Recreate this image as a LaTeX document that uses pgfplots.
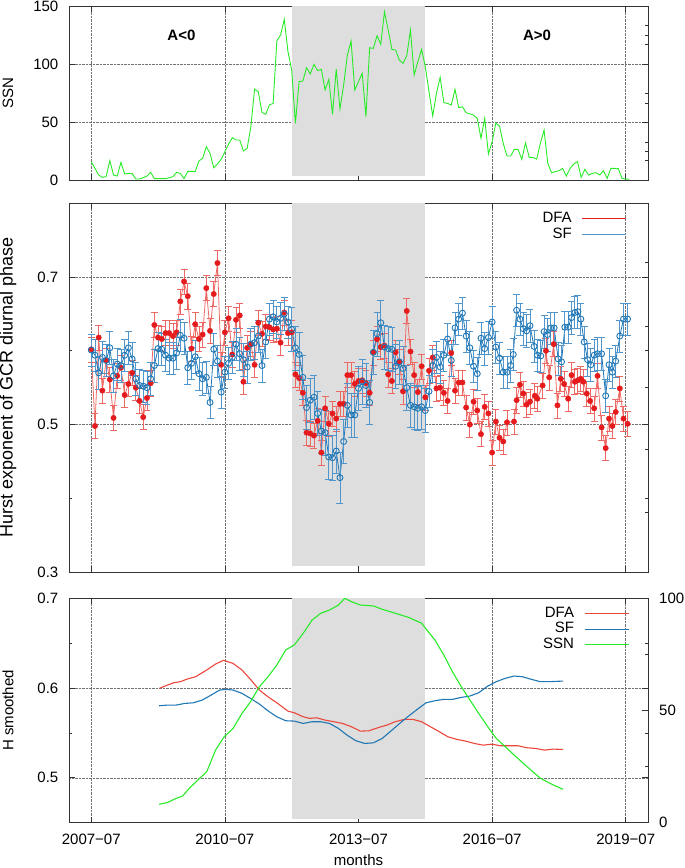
\documentclass[border=0pt]{standalone}
\usepackage{fontspec}
\setmainfont{Liberation Sans}
\usepackage{pgfplots}
\usepackage{pgfplotstable}
\pgfplotsset{compat=1.18}

\definecolor{dfa}{RGB}{228,26,28}
\definecolor{dfal}{RGB}{238,105,100}
\definecolor{redsm}{RGB}{235,70,60}
\definecolor{sf}{RGB}{31,119,180}
\definecolor{sfl}{RGB}{80,150,205}
\definecolor{ssn}{RGB}{40,235,40}
\definecolor{shade}{RGB}{222,222,222}
\newcommand\fs{\fontsize{15}{18}\selectfont}

\pgfplotstableread[row sep=\\]{
x y\\
0 15.8\\ 1 10\\ 2 4.3\\ 3 2.3\\ 4 2.9\\ 5 16.7\\ 6 4.3\\ 7 3.4\\ 8 15.2\\ 9 5.2\\
10 5.7\\ 11 5.5\\ 12 0.9\\ 13 0.9\\ 14 2\\ 15 3.4\\ 16 6.6\\ 17 1.2\\ 18 1.2\\ 19 1.2\\
20 1.2\\ 21 2\\ 22 2.9\\ 23 6.6\\ 24 5.7\\ 25 1.2\\ 26 7.5\\ 27 7.5\\ 28 7.2\\ 29 16.4\\
30 18.7\\ 31 28.7\\ 32 23\\ 33 10.6\\ 34 13.8\\ 35 17.8\\ 36 24.4\\ 37 31\\ 38 36.5\\ 39 34.5\\
40 34.5\\ 41 25\\ 42 27.3\\ 43 46\\ 44 78.4\\ 45 76\\ 46 58.3\\ 47 56.6\\ 48 64.7\\ 49 66\\
50 120\\ 51 125\\ 52 138.5\\ 53 110.6\\ 54 94.8\\ 55 48.9\\ 56 84.8\\ 57 85.3\\ 58 96.8\\ 59 91.4\\
60 99.7\\ 61 94.3\\ 62 95.4\\ 63 77.6\\ 64 86.8\\ 65 56.6\\ 66 95.7\\ 67 61.2\\ 68 81.9\\ 69 107.8\\
70 119.8\\ 71 77.6\\ 72 84.8\\ 73 92\\ 74 54.6\\ 75 114\\ 76 113.5\\ 77 124.4\\ 78 117\\ 79 145\\
80 129.3\\ 81 112.6\\ 82 112\\ 83 103.4\\ 84 100.6\\ 85 107\\ 86 129.3\\ 87 90.5\\ 88 102\\ 89 112.6\\
90 97.7\\ 91 76.1\\ 92 55.2\\ 93 74.7\\ 94 88.5\\ 95 66.7\\ 96 66\\ 97 64.7\\ 98 78.2\\ 99 62.4\\
100 63.2\\ 101 58\\ 102 57\\ 103 56\\ 104 53\\ 105 36\\ 106 53\\ 107 22.4\\ 108 33\\ 109 49\\
110 46.5\\ 111 31.6\\ 112 20.7\\ 113 20.7\\ 114 26.4\\ 115 26.4\\ 116 17.8\\ 117 32\\ 118 19.5\\ 119 19.5\\
120 18\\ 121 31.6\\ 122 43\\ 123 14.4\\ 124 6.3\\ 125 7.2\\ 126 8\\ 127 10\\ 128 3.4\\ 129 10\\
130 13.8\\ 131 15.8\\ 132 2.3\\ 133 9.2\\ 134 4.3\\ 135 5.7\\ 136 6.3\\ 137 4.3\\ 138 8\\ 139 1.4\\
140 10\\ 141 10\\ 142 9.8\\ 143 1.4\\ 144 0.9\\ 145 0.6\\
}\ssntab

\pgfplotstableread[row sep=\\]{
x y\\
0 0.602\\ 1 0.498\\ 2 0.618\\ 3 0.546\\ 4 0.587\\ 5 0.561\\ 6 0.509\\ 7 0.566\\ 8 0.577\\ 9 0.540\\
10 0.555\\ 11 0.570\\ 12 0.550\\ 13 0.532\\ 14 0.510\\ 15 0.536\\ 16 0.556\\ 17 0.635\\ 18 0.618\\ 19 0.616\\
20 0.624\\ 21 0.624\\ 22 0.620\\ 23 0.625\\ 24 0.667\\ 25 0.694\\ 26 0.674\\ 27 0.603\\ 28 0.636\\ 29 0.616\\
30 0.622\\ 31 0.685\\ 32 0.627\\ 33 0.677\\ 34 0.719\\ 35 0.581\\ 36 0.625\\ 37 0.644\\ 38 0.595\\ 39 0.642\\
40 0.648\\ 41 0.558\\ 42 0.604\\ 43 0.609\\ 44 0.581\\ 45 0.638\\ 46 0.623\\ 47 0.633\\ 48 0.632\\ 49 0.629\\
50 0.630\\ 51 0.611\\ 52 0.652\\ 53 0.624\\ 54 0.625\\ 55 0.568\\ 56 0.563\\ 57 0.543\\ 58 0.489\\ 59 0.488\\
60 0.485\\ 61 0.505\\ 62 0.462\\ 63 0.522\\ 64 0.501\\ 65 0.515\\ 66 0.508\\ 67 0.528\\ 68 0.528\\ 69 0.567\\
70 0.567\\ 71 0.555\\ 72 0.559\\ 73 0.560\\ 74 0.556\\ 75 0.543\\ 76 0.598\\ 77 0.616\\ 78 0.605\\ 79 0.607\\
80 0.568\\ 81 0.559\\ 82 0.598\\ 83 0.585\\ 84 0.545\\ 85 0.654\\ 86 0.599\\ 87 0.567\\ 88 0.544\\ 89 0.579\\
90 0.537\\ 91 0.573\\ 92 0.591\\ 93 0.549\\ 94 0.550\\ 95 0.543\\ 96 0.532\\ 97 0.597\\ 98 0.546\\ 99 0.557\\
100 0.557\\ 101 0.523\\ 102 0.500\\ 103 0.531\\ 104 0.519\\ 105 0.487\\ 106 0.524\\ 107 0.515\\ 108 0.462\\ 109 0.504\\
110 0.482\\ 111 0.477\\ 112 0.503\\ 113.9 0.504\\ 114.6 0.533\\ 115.5 0.554\\ 116.4 0.542\\ 117.3 0.527\\ 118.2 0.531\\ 119.5 0.539\\
120.2 0.535\\ 121.6 0.553\\ 122.5 0.600\\ 123.4 0.564\\ 124.6 0.609\\ 125.6 0.526\\ 126.5 0.562\\ 127.4 0.555\\ 128.5 0.535\\ 129.4 0.567\\
130.3 0.558\\ 131.1 0.560\\ 131.9 0.562\\ 132.6 0.558\\ 133.5 0.542\\ 134.4 0.532\\ 135.5 0.522\\ 136.4 0.566\\ 137.5 0.496\\ 138.6 0.468\\
139.5 0.508\\ 140.4 0.498\\ 141.3 0.517\\ 142.4 0.549\\ 143.4 0.508\\ 144.5 0.501\\
}\dfatab

\pgfplotstableread[row sep=\\]{
x y e\\
0 0.601 0.022\\ 1 0.594 0.022\\ 2 0.570 0.022\\ 3 0.591 0.022\\ 4 0.587 0.022\\ 5 0.604 0.022\\ 6 0.566 0.022\\ 7 0.582 0.022\\
8 0.580 0.022\\ 9 0.594 0.022\\ 10 0.604 0.022\\ 11 0.589 0.022\\ 12 0.562 0.022\\ 13 0.553 0.022\\ 14 0.552 0.022\\ 15 0.550 0.022\\
16 0.562 0.022\\ 17 0.580 0.022\\ 18 0.603 0.022\\ 19 0.602 0.022\\ 20 0.594 0.022\\ 21 0.590 0.022\\ 22 0.590 0.022\\ 23 0.597 0.022\\
24 0.621 0.022\\ 25 0.617 0.022\\ 26 0.577 0.022\\ 27 0.583 0.022\\ 28 0.592 0.022\\ 29 0.569 0.022\\ 30 0.562 0.022\\ 31 0.564 0.022\\
32 0.530 0.022\\ 33 0.602 0.022\\ 34 0.586 0.022\\ 35 0.544 0.022\\ 36 0.571 0.022\\ 37 0.583 0.022\\ 38 0.591 0.022\\ 39 0.609 0.022\\
40 0.596 0.022\\ 41 0.588 0.022\\ 42 0.578 0.022\\ 43 0.609 0.022\\ 44 0.611 0.022\\ 45 0.620 0.022\\ 46 0.580 0.022\\ 47 0.612 0.022\\
48 0.643 0.022\\ 49 0.646 0.022\\ 50 0.639 0.022\\ 51 0.644 0.022\\ 52 0.650 0.022\\ 53 0.639 0.022\\ 54 0.629 0.03\\ 55 0.604 0.03\\
56 0.595 0.03\\ 57 0.564 0.03\\ 58 0.523 0.03\\ 59 0.533 0.03\\ 60 0.537 0.03\\ 61 0.515 0.03\\ 62 0.491 0.03\\ 63 0.489 0.03\\
64 0.456 0.03\\ 65 0.455 0.03\\ 66 0.464 0.03\\ 67 0.428 0.035\\ 68 0.477 0.03\\ 69 0.526 0.03\\ 70 0.513 0.03\\ 71 0.513 0.03\\
72 0.549 0.03\\ 73 0.558 0.03\\ 74 0.553 0.03\\ 75 0.530 0.03\\ 76 0.598 0.03\\ 77 0.623 0.03\\ 78 0.638 0.03\\ 79 0.605 0.03\\
80 0.603 0.03\\ 81 0.602 0.03\\ 82 0.579 0.03\\ 83 0.585 0.03\\ 84 0.576 0.03\\ 85 0.550 0.03\\ 86 0.526 0.03\\ 87 0.524 0.03\\
88 0.522 0.03\\ 89 0.524 0.03\\ 90 0.519 0.03\\ 91 0.545 0.022\\ 92 0.580 0.022\\ 93 0.591 0.022\\ 94 0.578 0.022\\ 95 0.594 0.022\\
96 0.616 0.022\\ 97 0.587 0.022\\ 98 0.631 0.022\\ 99 0.643 0.022\\ 100 0.651 0.022\\ 101 0.620 0.022\\ 102 0.604 0.022\\ 103 0.579 0.022\\
104 0.569 0.022\\ 105 0.617 0.022\\ 106 0.603 0.022\\ 107 0.618 0.022\\ 108 0.639 0.022\\ 109 0.605 0.022\\ 110 0.590 0.022\\ 111 0.571 0.022\\
112 0.571 0.022\\ 113 0.580 0.022\\ 113.7 0.595 0.022\\ 114.6 0.655 0.022\\ 115.5 0.643 0.022\\ 116.4 0.630 0.022\\ 117.3 0.627 0.022\\ 118.2 0.634 0.022\\
119.3 0.606 0.022\\ 120.2 0.594 0.022\\ 121.1 0.593 0.022\\ 122.0 0.626 0.022\\ 122.9 0.622 0.022\\ 123.8 0.631 0.022\\ 124.7 0.631 0.022\\ 125.8 0.589 0.022\\
126.7 0.585 0.022\\ 127.6 0.632 0.022\\ 128.5 0.632 0.022\\ 129.4 0.645 0.022\\ 130.3 0.652 0.022\\ 131.1 0.653 0.022\\ 131.9 0.643 0.022\\ 132.8 0.612 0.022\\
133.7 0.588 0.022\\ 134.6 0.581 0.022\\ 135.5 0.594 0.022\\ 136.4 0.596 0.022\\ 137.5 0.596 0.022\\ 138.6 0.539 0.022\\ 139.5 0.581 0.022\\ 140.4 0.571 0.022\\
141.3 0.586 0.022\\ 142.4 0.620 0.022\\ 143.4 0.643 0.022\\ 144.5 0.643 0.022\\
}\sftab

\pgfplotstableread[row sep=\\]{
x y\\
18.3 0.5996\\ 20.5 0.6033\\ 22.2 0.6059\\ 24 0.6071\\ 25.8 0.6100\\ 28.1 0.6126\\ 31.1 0.6201\\ 33.5 0.6268\\ 35.6 0.6309\\ 38.2 0.6275\\
40.6 0.6201\\ 42.9 0.6097\\ 45.3 0.5978\\ 47.6 0.5903\\ 50 0.5836\\ 53 0.5743\\ 54.7 0.5725\\ 57.1 0.5680\\ 58.9 0.5662\\ 60.7 0.5669\\
63 0.5643\\ 65.4 0.5625\\ 67.7 0.5606\\ 70.1 0.5569\\ 72.5 0.5520\\ 74.8 0.5524\\ 77.2 0.5558\\ 79.6 0.5587\\ 81.9 0.5625\\ 84.3 0.5651\\
86.7 0.5651\\ 89 0.5625\\ 91.4 0.5569\\ 93.8 0.5513\\ 96.1 0.5457\\ 98.5 0.5428\\ 100.9 0.5409\\ 103.2 0.5383\\ 105.6 0.5364\\ 107.9 0.5375\\
110.3 0.5357\\ 112.7 0.5357\\ 115 0.5357\\ 117.4 0.5335\\ 119.8 0.5327\\ 122.1 0.5309\\ 124.5 0.5320\\ 127.1 0.5316\\
}\dfasmtab

\pgfplotstableread[row sep=\\]{
x y\\
18.3 0.5803\\ 20.5 0.5810\\ 22.8 0.5810\\ 25.2 0.5829\\ 27.5 0.5836\\ 29.9 0.5866\\ 32.3 0.5922\\ 34.6 0.5978\\ 36.1 0.5985\\ 38.2 0.5978\\
40.6 0.5941\\ 42.9 0.5885\\ 45.3 0.5822\\ 47.6 0.5747\\ 50 0.5680\\ 52.4 0.5636\\ 54.7 0.5632\\ 57.1 0.5606\\ 59.5 0.5625\\ 61.8 0.5625\\
64.2 0.5606\\ 66.6 0.5550\\ 68.9 0.5476\\ 71.3 0.5413\\ 73.7 0.5383\\ 76 0.5390\\ 78.4 0.5439\\ 80.8 0.5524\\ 83.1 0.5606\\ 85.5 0.5688\\
87.8 0.5762\\ 90.2 0.5836\\ 92.6 0.5859\\ 94.9 0.5874\\ 97.3 0.5874\\ 99.7 0.5896\\ 102 0.5911\\ 104.4 0.5948\\ 106.8 0.6022\\ 109.1 0.6071\\
111.5 0.6108\\ 113.9 0.6134\\ 116.2 0.6126\\ 118.6 0.6097\\ 121 0.6071\\ 123.3 0.6071\\ 127.1 0.6078\\
}\sfsmtab

\pgfplotstableread[row sep=\\]{
x y\\
18.3 8.2\\ 20.5 9\\ 22.8 10.8\\ 24.6 11.9\\ 26.4 15.3\\ 28.7 19\\ 31.1 22.7\\ 33.5 32.4\\ 35.8 38.3\\ 38.2 42\\
40.6 48.7\\ 42.9 53.9\\ 45.3 60.6\\ 47.6 65\\ 50 70.3\\ 52.4 77\\ 54.7 79.2\\ 57.1 84.4\\ 59.5 90.3\\ 61.8 93.3\\
64.2 94.8\\ 66.6 97\\ 68.3 100\\ 70.1 98.5\\ 72.5 97\\ 76 96.6\\ 78.4 95.1\\ 82 93.3\\ 85.5 91.5\\ 89 88.9\\
90.8 85.1\\ 92.6 81.4\\ 95 74.7\\ 97.3 67.3\\ 99.7 60.6\\ 102 54.7\\ 104.4 48.7\\ 106.8 42.8\\ 109.1 37.6\\ 111.5 33.9\\
113.9 30.2\\ 117.4 25\\ 121 19.8\\ 124.5 16.8\\ 127.1 14.9\\
}\ssnsmtab

\pgfplotsset{
  base/.style={
    scale only axis, width=579pt,
    xmin=-6, xmax=150,
    xtick={0,36,72,108,144},
    tick align=inside,
    major tick length=6pt, minor tick length=3.5pt,
    grid=major,
    grid style={densely dotted, black!55, line width=0.5pt},
    axis line style={line width=0.9pt, black!80},
    every tick/.style={black!80, line width=0.7pt},
    tick label style={font=\fs},
    /pgf/number format/assume math mode=true,
    yticklabel style={inner sep=0pt, xshift=-10.5pt},
    xticklabel style={inner sep=0pt, yshift=-11pt},
    every axis y label/.style={at={(axis description cs:-0.1054,0.5)}, rotate=90, anchor=center, inner sep=0pt, font=\fs},
    every axis x label/.style={at={(axis description cs:0.5,-0.14)}, anchor=north, inner sep=0pt, font=\fs},
    legend plot pos=right,
    legend cell align=right,
    legend image code/.code={\draw[##1] (0pt,0pt) -- (44pt,0pt);},
  },
  ticksonly/.style={
    scale only axis, width=579pt,
    xmin=-6, xmax=150,
    axis x line=none, axis y line*=right,
    axis line style={draw=none},
    tick align=inside, major tick length=3.5pt,
    every tick/.style={black!80, line width=0.7pt},
    yticklabels={},
  },
}

\begin{document}
\begin{tikzpicture}
\useasboundingbox (-69pt,0pt) rectangle (616pt,-868pt);

% ---------- top: SSN ----------
\begin{axis}[base, at={(0pt,-6pt)}, anchor=north west, height=174pt,
  ymin=0, ymax=150, ytick={0,50,100,150}, xticklabels={}, ylabel={SSN}]
\addplot[fill=shade, draw=none, forget plot] coordinates {(54,3.4) (90,3.4) (90,150) (54,150)};
\addplot[ssn, line width=0.9pt] table[x=x, y=y] {\ssntab};
\node[font=\fs\bfseries] at (axis cs:24.3,125) {A<0};
\node[font=\fs\bfseries] at (axis cs:120.1,125) {A>0};
\end{axis}
\begin{axis}[ticksonly, at={(0pt,-6pt)}, anchor=north west, height=174pt,
  ymin=0, ymax=150, ytick={17.2,25,32.8,66.4,75,117.2,125,133.6}]
\end{axis}

% ---------- middle: Hurst exponent ----------
\begin{axis}[base, at={(0pt,-203.3pt)}, anchor=north west, height=368.7pt,
  ymin=0.3, ymax=0.8, ytick={0.3,0.5,0.7}, minor ytick={0.4,0.6}, xticklabels={},
  ylabel={\fontsize{18}{22}\selectfont Hurst exponent of GCR diurnal phase},
  legend style={at={(0.9632,0.979)}, anchor=north east, draw=none, fill=none, font=\fs,
    inner sep=0pt, row sep=1pt, column sep=9.5pt,
    nodes={inner sep=0pt, text height=11pt, text depth=4pt}}]
\addplot[fill=shade, draw=none, forget plot] coordinates {(54,0.3075) (90,0.3075) (90,0.8) (54,0.8)};
\addplot[color=dfal, line width=0.8pt, mark=*, mark size=2.7pt,
  mark options={fill=dfa, draw=dfa, line width=0.4pt}, forget plot,
  error bars/.cd, y dir=both, y fixed=0.017,
  error bar style={color=dfal, line width=0.8pt, mark size=3.5pt}]
  table[x=x, y=y] {\dfatab};
\addplot[color=sf, line width=0.8pt, mark=o, mark size=3pt,
  mark options={draw=sf, line width=0.9pt}, forget plot,
  error bars/.cd, y dir=both, y explicit,
  error bar style={color=sfl, line width=0.8pt, mark size=3.5pt}]
  table[x=x, y=y, y error=e] {\sftab};
\addlegendimage{color=dfa, line width=0.9pt}
\addlegendentry{DFA}
\addlegendimage{color=sfl, line width=1.3pt}
\addlegendentry{SF}
\end{axis}
\begin{axis}[ticksonly, at={(0pt,-203.3pt)}, anchor=north west, height=368.7pt,
  ymin=0.3, ymax=0.8, ytick={0.3815,0.4657,0.5498,0.6326,0.7194}]
\end{axis}

% ---------- bottom: smoothed ----------
\begin{axis}[base, at={(0pt,-598.3pt)}, anchor=north west, height=224.4pt,
  ymin=0.45, ymax=0.7, ytick={0.5,0.6,0.7}, minor ytick={0.55,0.65},
  xticklabels={2007−07,2010−07,2013−07,2016−07,2019−07},
  xlabel={months}, ylabel={H smoothed},
  legend style={at={(0.968,0.9657)}, anchor=north east, draw=none, fill=none, font=\fs,
    inner sep=0pt, row sep=0.5pt, column sep=10pt,
    nodes={inner sep=0pt, text height=11pt, text depth=4pt}}]
\addplot[fill=shade, draw=none, forget plot] coordinates {(54,0.4545) (90,0.4545) (90,0.7) (54,0.7)};
\addplot[color=redsm, line width=1.1pt, forget plot] table[x=x, y=y] {\dfasmtab};
\addplot[color=sf, line width=1.1pt, forget plot] table[x=x, y=y] {\sfsmtab};
\addlegendimage{color=redsm, line width=1.2pt}
\addlegendentry{DFA}
\addlegendimage{color=sf, line width=1.2pt}
\addlegendentry{SF}
\addlegendimage{color=ssn, line width=1.2pt}
\addlegendentry{SSN}
\end{axis}
\begin{axis}[scale only axis, width=579pt, height=224.4pt, at={(0pt,-598.3pt)}, anchor=north west,
  xmin=-6, xmax=150, ymin=0, ymax=100,
  axis x line=none, axis y line*=right, axis line style={draw=none},
  ytick={0,50,100}, minor ytick={25,75},
  tick align=inside, major tick length=6pt, minor tick length=3.5pt,
  every tick/.style={black!80, line width=0.7pt},
  tick label style={font=\fs},
  /pgf/number format/assume math mode=true,
  yticklabel style={inner sep=0pt, anchor=west, xshift=11pt}]
\addplot[ssn, line width=1.1pt] table[x=x, y=y] {\ssnsmtab};
\end{axis}
\end{tikzpicture}
\end{document}
